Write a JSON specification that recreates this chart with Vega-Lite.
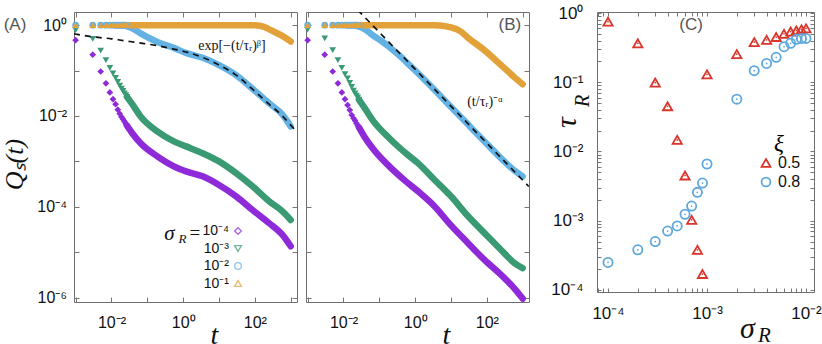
{
"$schema": "https://vega.github.io/schema/vega-lite/v6.json",
"padding": {"left": 0, "top": 4, "right": 0, "bottom": 0},
"config": {
 "font": "Liberation Sans",
 "view": {"stroke": "#6e6e6e", "strokeWidth": 1},
 "axis": {"domain": false, "grid": false, "tickColor": "#777", "tickSize": -5, "tickWidth": 1, "labelFont": "Liberation Sans", "labelFontSize": 16, "labelColor": "#111", "labelOverlap": false, "labelFlush": false, "titleFont": "Liberation Serif", "titleFontStyle": "italic", "titleFontWeight": "normal", "titleColor": "#111"},
 "legend": {"labelFont": "Liberation Sans", "labelColor": "#111"}
},
"datasets": {
 "pts": [
  {"p":"A","s":"10⁻⁴","t":0.001,"q":0.468},{"p":"A","s":"10⁻⁴","t":0.003,"q":0.224},{"p":"A","s":"10⁻⁴","t":0.005,"q":0.0955},{"p":"A","s":"10⁻⁴","t":0.007,"q":0.0525},{"p":"A","s":"10⁻⁴","t":0.009,"q":0.0331},{"p":"A","s":"10⁻⁴","t":0.011,"q":0.0234},{"p":"A","s":"10⁻⁴","t":0.013,"q":0.0182},{"p":"A","s":"10⁻⁴","t":0.015,"q":0.0138},{"p":"A","s":"10⁻⁴","t":0.017,"q":0.0112},{"p":"A","s":"10⁻⁴","t":0.019,"q":0.00955},{"p":"A","s":"10⁻⁴","t":0.021,"q":0.00851},{"p":"A","s":"10⁻⁴","t":0.023,"q":0.00759},{"p":"A","s":"10⁻⁴","t":0.025,"q":0.00676},{"p":"A","s":"10⁻⁴","t":0.027,"q":0.00617},
  {"p":"A","s":"10⁻³","t":0.001,"q":0.776},{"p":"A","s":"10⁻³","t":0.003,"q":0.501},{"p":"A","s":"10⁻³","t":0.005,"q":0.275},{"p":"A","s":"10⁻³","t":0.007,"q":0.17},{"p":"A","s":"10⁻³","t":0.009,"q":0.115},{"p":"A","s":"10⁻³","t":0.011,"q":0.0871},{"p":"A","s":"10⁻³","t":0.013,"q":0.0692},{"p":"A","s":"10⁻³","t":0.015,"q":0.0562},{"p":"A","s":"10⁻³","t":0.017,"q":0.0468},{"p":"A","s":"10⁻³","t":0.019,"q":0.0398},{"p":"A","s":"10⁻³","t":0.021,"q":0.0355},{"p":"A","s":"10⁻³","t":0.023,"q":0.0316},{"p":"A","s":"10⁻³","t":0.025,"q":0.0288},{"p":"A","s":"10⁻³","t":0.027,"q":0.0263},
  {"p":"A","s":"10⁻²","t":0.001,"q":1},{"p":"A","s":"10⁻²","t":0.003,"q":1},{"p":"A","s":"10⁻²","t":0.005,"q":1},{"p":"A","s":"10⁻²","t":0.007,"q":1},{"p":"A","s":"10⁻²","t":0.009,"q":1},{"p":"A","s":"10⁻²","t":0.011,"q":1},{"p":"A","s":"10⁻²","t":0.013,"q":1},{"p":"A","s":"10⁻²","t":0.015,"q":1},{"p":"A","s":"10⁻²","t":0.017,"q":1},{"p":"A","s":"10⁻²","t":0.019,"q":1},{"p":"A","s":"10⁻²","t":0.021,"q":1},{"p":"A","s":"10⁻²","t":0.023,"q":1},{"p":"A","s":"10⁻²","t":0.025,"q":1},{"p":"A","s":"10⁻²","t":0.027,"q":0.96},
  {"p":"A","s":"10⁻¹","t":0.001,"q":1},{"p":"A","s":"10⁻¹","t":0.003,"q":1},{"p":"A","s":"10⁻¹","t":0.005,"q":1},{"p":"A","s":"10⁻¹","t":0.007,"q":1},{"p":"A","s":"10⁻¹","t":0.009,"q":1},{"p":"A","s":"10⁻¹","t":0.011,"q":1},{"p":"A","s":"10⁻¹","t":0.013,"q":1},{"p":"A","s":"10⁻¹","t":0.015,"q":1},{"p":"A","s":"10⁻¹","t":0.017,"q":1},{"p":"A","s":"10⁻¹","t":0.019,"q":1},{"p":"A","s":"10⁻¹","t":0.021,"q":1},{"p":"A","s":"10⁻¹","t":0.023,"q":1},{"p":"A","s":"10⁻¹","t":0.025,"q":1},{"p":"A","s":"10⁻¹","t":0.027,"q":1},
  {"p":"B","s":"10⁻⁴","t":0.001,"q":0.468},{"p":"B","s":"10⁻⁴","t":0.003,"q":0.224},{"p":"B","s":"10⁻⁴","t":0.005,"q":0.0955},{"p":"B","s":"10⁻⁴","t":0.007,"q":0.0525},{"p":"B","s":"10⁻⁴","t":0.009,"q":0.0331},{"p":"B","s":"10⁻⁴","t":0.011,"q":0.0234},{"p":"B","s":"10⁻⁴","t":0.013,"q":0.0174},{"p":"B","s":"10⁻⁴","t":0.015,"q":0.0135},{"p":"B","s":"10⁻⁴","t":0.017,"q":0.0105},{"p":"B","s":"10⁻⁴","t":0.019,"q":0.00891},{"p":"B","s":"10⁻⁴","t":0.021,"q":0.00794},{"p":"B","s":"10⁻⁴","t":0.023,"q":0.00692},{"p":"B","s":"10⁻⁴","t":0.025,"q":0.00617},{"p":"B","s":"10⁻⁴","t":0.027,"q":0.00562},
  {"p":"B","s":"10⁻³","t":0.001,"q":0.794},{"p":"B","s":"10⁻³","t":0.003,"q":0.513},{"p":"B","s":"10⁻³","t":0.005,"q":0.282},{"p":"B","s":"10⁻³","t":0.007,"q":0.17},{"p":"B","s":"10⁻³","t":0.009,"q":0.115},{"p":"B","s":"10⁻³","t":0.011,"q":0.0832},{"p":"B","s":"10⁻³","t":0.013,"q":0.0676},{"p":"B","s":"10⁻³","t":0.015,"q":0.0537},{"p":"B","s":"10⁻³","t":0.017,"q":0.0437},{"p":"B","s":"10⁻³","t":0.019,"q":0.0363},{"p":"B","s":"10⁻³","t":0.021,"q":0.0316},{"p":"B","s":"10⁻³","t":0.023,"q":0.0282},{"p":"B","s":"10⁻³","t":0.025,"q":0.0257},{"p":"B","s":"10⁻³","t":0.027,"q":0.0229},
  {"p":"B","s":"10⁻²","t":0.001,"q":1},{"p":"B","s":"10⁻²","t":0.003,"q":1},{"p":"B","s":"10⁻²","t":0.005,"q":1},{"p":"B","s":"10⁻²","t":0.007,"q":1},{"p":"B","s":"10⁻²","t":0.009,"q":1},{"p":"B","s":"10⁻²","t":0.011,"q":1},{"p":"B","s":"10⁻²","t":0.013,"q":1},{"p":"B","s":"10⁻²","t":0.015,"q":1},{"p":"B","s":"10⁻²","t":0.017,"q":1},{"p":"B","s":"10⁻²","t":0.019,"q":1},{"p":"B","s":"10⁻²","t":0.021,"q":1},{"p":"B","s":"10⁻²","t":0.023,"q":1},{"p":"B","s":"10⁻²","t":0.025,"q":1},{"p":"B","s":"10⁻²","t":0.027,"q":0.94},
  {"p":"B","s":"10⁻¹","t":0.001,"q":1},{"p":"B","s":"10⁻¹","t":0.003,"q":1},{"p":"B","s":"10⁻¹","t":0.005,"q":1},{"p":"B","s":"10⁻¹","t":0.007,"q":1},{"p":"B","s":"10⁻¹","t":0.009,"q":1},{"p":"B","s":"10⁻¹","t":0.011,"q":1},{"p":"B","s":"10⁻¹","t":0.013,"q":1},{"p":"B","s":"10⁻¹","t":0.015,"q":1},{"p":"B","s":"10⁻¹","t":0.017,"q":1},{"p":"B","s":"10⁻¹","t":0.019,"q":1},{"p":"B","s":"10⁻¹","t":0.021,"q":1},{"p":"B","s":"10⁻¹","t":0.023,"q":1},{"p":"B","s":"10⁻¹","t":0.025,"q":1},{"p":"B","s":"10⁻¹","t":0.027,"q":1}
 ],
 "band": [
  {"p":"A","s":"10⁻⁴","t":0.027,"q":0.00617},{"p":"A","s":"10⁻⁴","t":0.038,"q":0.00417},{"p":"A","s":"10⁻⁴","t":0.065,"q":0.00251},{"p":"A","s":"10⁻⁴","t":0.19,"q":0.00129},{"p":"A","s":"10⁻⁴","t":0.55,"q":0.000776},{"p":"A","s":"10⁻⁴","t":1.2,"q":0.000603},{"p":"A","s":"10⁻⁴","t":3.5,"q":0.000468},{"p":"A","s":"10⁻⁴","t":10,"q":0.000302},{"p":"A","s":"10⁻⁴","t":30,"q":0.00017},{"p":"A","s":"10⁻⁴","t":86,"q":0.0000851},{"p":"A","s":"10⁻⁴","t":250,"q":0.0000437},{"p":"A","s":"10⁻⁴","t":590,"q":0.000024},{"p":"A","s":"10⁻⁴","t":1000,"q":0.0000135},
  {"p":"A","s":"10⁻³","t":0.027,"q":0.0263},{"p":"A","s":"10⁻³","t":0.038,"q":0.0182},{"p":"A","s":"10⁻³","t":0.065,"q":0.00977},{"p":"A","s":"10⁻³","t":0.19,"q":0.00457},{"p":"A","s":"10⁻³","t":0.55,"q":0.00275},{"p":"A","s":"10⁻³","t":1.2,"q":0.00214},{"p":"A","s":"10⁻³","t":3.5,"q":0.00151},{"p":"A","s":"10⁻³","t":10,"q":0.001},{"p":"A","s":"10⁻³","t":30,"q":0.00055},{"p":"A","s":"10⁻³","t":86,"q":0.000282},{"p":"A","s":"10⁻³","t":250,"q":0.000132},{"p":"A","s":"10⁻³","t":590,"q":0.0000794},{"p":"A","s":"10⁻³","t":1000,"q":0.0000513},
  {"p":"A","s":"10⁻²","t":0.013,"q":1},{"p":"A","s":"10⁻²","t":0.02,"q":0.995},{"p":"A","s":"10⁻²","t":0.027,"q":0.955},{"p":"A","s":"10⁻²","t":0.038,"q":0.851},{"p":"A","s":"10⁻²","t":0.065,"q":0.661},{"p":"A","s":"10⁻²","t":0.19,"q":0.427},{"p":"A","s":"10⁻²","t":0.55,"q":0.316},{"p":"A","s":"10⁻²","t":1.2,"q":0.245},{"p":"A","s":"10⁻²","t":3.5,"q":0.191},{"p":"A","s":"10⁻²","t":10,"q":0.132},{"p":"A","s":"10⁻²","t":30,"q":0.0794},{"p":"A","s":"10⁻²","t":86,"q":0.0398},{"p":"A","s":"10⁻²","t":250,"q":0.0191},{"p":"A","s":"10⁻²","t":590,"q":0.0107},{"p":"A","s":"10⁻²","t":1000,"q":0.00589},
  {"p":"A","s":"10⁻¹","t":0.013,"q":1},{"p":"A","s":"10⁻¹","t":0.1,"q":1},{"p":"A","s":"10⁻¹","t":1,"q":1},{"p":"A","s":"10⁻¹","t":10,"q":1},{"p":"A","s":"10⁻¹","t":60,"q":1},{"p":"A","s":"10⁻¹","t":100,"q":0.99},{"p":"A","s":"10⁻¹","t":180,"q":0.92},{"p":"A","s":"10⁻¹","t":280,"q":0.776},{"p":"A","s":"10⁻¹","t":656,"q":0.55},{"p":"A","s":"10⁻¹","t":1000,"q":0.437},
  {"p":"B","s":"10⁻⁴","t":0.027,"q":0.00562},{"p":"B","s":"10⁻⁴","t":0.038,"q":0.00355},{"p":"B","s":"10⁻⁴","t":0.065,"q":0.00195},{"p":"B","s":"10⁻⁴","t":0.19,"q":0.000776},{"p":"B","s":"10⁻⁴","t":0.55,"q":0.000363},{"p":"B","s":"10⁻⁴","t":1.2,"q":0.000219},{"p":"B","s":"10⁻⁴","t":3.5,"q":0.000102},{"p":"B","s":"10⁻⁴","t":10,"q":0.0000389},{"p":"B","s":"10⁻⁴","t":30,"q":0.0000158},{"p":"B","s":"10⁻⁴","t":86,"q":0.00000676},{"p":"B","s":"10⁻⁴","t":250,"q":0.00000316},{"p":"B","s":"10⁻⁴","t":590,"q":0.00000158},{"p":"B","s":"10⁻⁴","t":1000,"q":0.00000095},
  {"p":"B","s":"10⁻³","t":0.027,"q":0.0229},{"p":"B","s":"10⁻³","t":0.038,"q":0.0155},{"p":"B","s":"10⁻³","t":0.065,"q":0.00813},{"p":"B","s":"10⁻³","t":0.19,"q":0.00324},{"p":"B","s":"10⁻³","t":0.55,"q":0.00151},{"p":"B","s":"10⁻³","t":1.2,"q":0.000912},{"p":"B","s":"10⁻³","t":3.5,"q":0.000389},{"p":"B","s":"10⁻³","t":10,"q":0.00017},{"p":"B","s":"10⁻³","t":30,"q":0.0000617},{"p":"B","s":"10⁻³","t":86,"q":0.0000263},{"p":"B","s":"10⁻³","t":250,"q":0.0000112},{"p":"B","s":"10⁻³","t":590,"q":0.00000575},{"p":"B","s":"10⁻³","t":1000,"q":0.00000447},
  {"p":"B","s":"10⁻²","t":0.013,"q":1},{"p":"B","s":"10⁻²","t":0.02,"q":0.99},{"p":"B","s":"10⁻²","t":0.027,"q":0.933},{"p":"B","s":"10⁻²","t":0.038,"q":0.832},{"p":"B","s":"10⁻²","t":0.065,"q":0.603},{"p":"B","s":"10⁻²","t":0.12,"q":0.437},{"p":"B","s":"10⁻²","t":0.19,"q":0.331},{"p":"B","s":"10⁻²","t":0.4,"q":0.2},{"p":"B","s":"10⁻²","t":0.55,"q":0.158},{"p":"B","s":"10⁻²","t":1.2,"q":0.0871},{"p":"B","s":"10⁻²","t":3.5,"q":0.0372},{"p":"B","s":"10⁻²","t":10,"q":0.0158},{"p":"B","s":"10⁻²","t":30,"q":0.00646},{"p":"B","s":"10⁻²","t":86,"q":0.00275},{"p":"B","s":"10⁻²","t":250,"q":0.00117},{"p":"B","s":"10⁻²","t":590,"q":0.00063},{"p":"B","s":"10⁻²","t":1000,"q":0.000468},
  {"p":"B","s":"10⁻¹","t":0.013,"q":1},{"p":"B","s":"10⁻¹","t":0.1,"q":1},{"p":"B","s":"10⁻¹","t":1,"q":1},{"p":"B","s":"10⁻¹","t":3.4,"q":1},{"p":"B","s":"10⁻¹","t":5,"q":0.98},{"p":"B","s":"10⁻¹","t":10,"q":0.891},{"p":"B","s":"10⁻¹","t":18,"q":0.74},{"p":"B","s":"10⁻¹","t":29,"q":0.537},{"p":"B","s":"10⁻¹","t":85,"q":0.282},{"p":"B","s":"10⁻¹","t":250,"q":0.132},{"p":"B","s":"10⁻¹","t":590,"q":0.0708},{"p":"B","s":"10⁻¹","t":1000,"q":0.0501}
 ],
 "fit": [
  {"p":"A","t":0.0009,"q":0.646},{"p":"A","t":0.0032,"q":0.55},{"p":"A","t":0.01,"q":0.501},{"p":"A","t":0.022,"q":0.457},{"p":"A","t":0.06,"q":0.407},{"p":"A","t":0.185,"q":0.355},{"p":"A","t":0.5,"q":0.302},{"p":"A","t":1.2,"q":0.257},{"p":"A","t":3.5,"q":0.195},{"p":"A","t":10,"q":0.132},{"p":"A","t":30,"q":0.0794},{"p":"A","t":86,"q":0.0389},{"p":"A","t":250,"q":0.0182},{"p":"A","t":590,"q":0.01},{"p":"A","t":1000,"q":0.0063},{"p":"A","t":1300,"q":0.005},
  {"p":"B","t":0.0251,"q":2.15},{"p":"B","t":1479,"q":0.000281}
 ],
 "tau": [
  {"sigma":0.0001,"tau":0.75,"xi":"0.5"},{"sigma":0.0002,"tau":0.365,"xi":"0.5"},{"sigma":0.0003,"tau":0.099,"xi":"0.5"},{"sigma":0.0004,"tau":0.045,"xi":"0.5"},{"sigma":0.0005,"tau":0.0147,"xi":"0.5"},{"sigma":0.0006,"tau":0.0045,"xi":"0.5"},{"sigma":0.0007,"tau":0.00103,"xi":"0.5"},{"sigma":0.0008,"tau":0.00038,"xi":"0.5"},{"sigma":0.0009,"tau":0.00017,"xi":"0.5"},{"sigma":0.001,"tau":0.13,"xi":"0.5"},{"sigma":0.002,"tau":0.255,"xi":"0.5"},{"sigma":0.003,"tau":0.38,"xi":"0.5"},{"sigma":0.004,"tau":0.41,"xi":"0.5"},{"sigma":0.005,"tau":0.45,"xi":"0.5"},{"sigma":0.006,"tau":0.5,"xi":"0.5"},{"sigma":0.007,"tau":0.54,"xi":"0.5"},{"sigma":0.008,"tau":0.56,"xi":"0.5"},{"sigma":0.009,"tau":0.58,"xi":"0.5"},{"sigma":0.01,"tau":0.6,"xi":"0.5"},
  {"sigma":0.0001,"tau":0.00025,"xi":"0.8"},{"sigma":0.0002,"tau":0.00038,"xi":"0.8"},{"sigma":0.0003,"tau":0.0005,"xi":"0.8"},{"sigma":0.0004,"tau":0.00071,"xi":"0.8"},{"sigma":0.0005,"tau":0.00084,"xi":"0.8"},{"sigma":0.0006,"tau":0.00124,"xi":"0.8"},{"sigma":0.0007,"tau":0.00163,"xi":"0.8"},{"sigma":0.0008,"tau":0.00257,"xi":"0.8"},{"sigma":0.0009,"tau":0.0035,"xi":"0.8"},{"sigma":0.001,"tau":0.0066,"xi":"0.8"},{"sigma":0.002,"tau":0.057,"xi":"0.8"},{"sigma":0.003,"tau":0.147,"xi":"0.8"},{"sigma":0.004,"tau":0.187,"xi":"0.8"},{"sigma":0.005,"tau":0.229,"xi":"0.8"},{"sigma":0.006,"tau":0.326,"xi":"0.8"},{"sigma":0.007,"tau":0.365,"xi":"0.8"},{"sigma":0.008,"tau":0.417,"xi":"0.8"},{"sigma":0.009,"tau":0.43,"xi":"0.8"},{"sigma":0.01,"tau":0.43,"xi":"0.8"}
 ]
},
"resolve": {"scale": {"color": "independent", "shape": "independent"}},
"bounds": "flush",
"spacing": 9,
"hconcat": [
 {
  "width": 223, "height": 290,
  "resolve": {"axis": {"x": "independent", "y": "independent"}},
  "layer": [
   {
    "data": {"name": "band"},
    "transform": [{"filter": "datum.p == 'A'"}],
    "mark": {"type": "line", "strokeWidth": 6.5, "interpolate": "monotone", "strokeCap": "round", "strokeJoin": "round"},
    "encoding": {
     "x": {"field": "t", "type": "quantitative", "scale": {"type": "log", "domain": [0.0009, 1500]}, "axis": {"values": [0.001, 0.01, 0.1, 1, 10, 100, 1000], "labelExpr": "datum.value==0.01?'10⁻²':datum.value==1?'10⁰':datum.value==100?'10²':''", "labelPadding": 17.5, "title": "t", "titleFontSize": 28, "titleX": 140, "titleY": 41, "titleBaseline": "alphabetic", "titleAlign": "center"}},
     "y": {"field": "q", "type": "quantitative", "scale": {"type": "log", "domain": [8e-7, 1.95]}, "axis": {"values": [0.000001, 0.00001, 0.0001, 0.001, 0.01, 0.1, 1], "labelExpr": "datum.value==1?'10⁰':datum.value==0.01?'10⁻²':datum.value==0.0001?'10⁻⁴':datum.value==0.000001?'10⁻⁶':''", "labelPadding": 12.5, "title": "Qₛ(t)", "titleFontSize": 26, "titleX": -52, "titleY": 152, "titleBaseline": "alphabetic", "titleAlign": "center"}},
     "detail": {"field": "s", "type": "nominal"},
     "color": {"condition": [{"test": "datum.s=='10⁻⁴'", "value": "#8e2ad8"}, {"test": "datum.s=='10⁻³'", "value": "#3a9a73"}, {"test": "datum.s=='10⁻²'", "value": "#64b2e4"}], "value": "#e3a13a"}
    }
   },
   {
    "data": {"name": "pts"},
    "transform": [{"filter": "datum.p == 'A'"}],
    "mark": {"type": "point", "filled": true, "size": 45, "opacity": 1},
    "encoding": {
     "x": {"field": "t", "type": "quantitative", "scale": {"type": "log", "domain": [0.0009, 1500]}, "axis": null},
     "y": {"field": "q", "type": "quantitative", "scale": {"type": "log", "domain": [8e-7, 1.95]}, "axis": null},
     "color": {"condition": [{"test": "datum.s=='10⁻⁴'", "value": "#8e2ad8"}, {"test": "datum.s=='10⁻³'", "value": "#3a9a73"}, {"test": "datum.s=='10⁻²'", "value": "#64b2e4"}], "value": "#e3a13a"},
     "shape": {"condition": [{"test": "datum.s=='10⁻⁴'", "value": "diamond"}, {"test": "datum.s=='10⁻³'", "value": "triangle-down"}, {"test": "datum.s=='10⁻²'", "value": "circle"}], "value": "triangle-up"}
    }
   },
   {
    "data": {"name": "pts"},
    "transform": [{"filter": "datum.t > 1000000"}],
    "mark": {"type": "point", "filled": false, "size": 45, "strokeWidth": 1.4},
    "encoding": {
     "x": {"field": "t", "type": "quantitative", "scale": {"type": "log", "domain": [0.0009, 1500]}, "axis": null},
     "y": {"field": "q", "type": "quantitative", "scale": {"type": "log", "domain": [8e-7, 1.95]}, "axis": null},
     "color": {"field": "s", "type": "nominal", "scale": {"domain": ["10⁻⁴", "10⁻³", "10⁻²", "10⁻¹"], "range": ["#8e2ad8", "#3a9a73", "#64b2e4", "#e3a13a"]}, "legend": {"title": null, "orient": "none", "legendX": 157, "legendY": 212, "labelAlign": "right", "labelOffset": -16, "labelFontSize": 14, "symbolSize": 45, "symbolStrokeWidth": 1.4, "rowPadding": 3.5, "padding": 0}},
     "shape": {"field": "s", "type": "nominal", "scale": {"domain": ["10⁻⁴", "10⁻³", "10⁻²", "10⁻¹"], "range": ["diamond", "triangle-down", "circle", "triangle-up"]}, "legend": {"title": null, "orient": "none", "legendX": 157, "legendY": 212, "labelAlign": "right", "labelOffset": -16, "labelFontSize": 14, "symbolSize": 45, "symbolStrokeWidth": 1.4, "rowPadding": 3.5, "padding": 0}}
    }
   },
   {
    "data": {"name": "fit"},
    "transform": [{"filter": "datum.p == 'A'"}],
    "mark": {"type": "line", "color": "#111", "strokeWidth": 1.7, "strokeDash": [6, 5], "interpolate": "monotone"},
    "encoding": {
     "x": {"field": "t", "type": "quantitative", "scale": {"type": "log", "domain": [0.0009, 1500]}, "axis": null},
     "y": {"field": "q", "type": "quantitative", "scale": {"type": "log", "domain": [8e-7, 1.95]}, "axis": null}
    }
   },
   {"data": {"values": [{}]}, "mark": {"type": "text", "text": "(A)", "font": "Liberation Sans", "fontSize": 17, "color": "#555"}, "encoding": {"x": {"datum": 0.0000203, "type": "quantitative", "scale": {"type": "log", "domain": [0.0009, 1500]}, "axis": null}, "y": {"datum": 1, "type": "quantitative", "scale": {"type": "log", "domain": [8e-7, 1.95]}, "axis": null}}},
   {"data": {"values": [{}]}, "mark": {"type": "text", "text": "exp[−(t/τᵣ)ᵝ]", "font": "Liberation Serif", "fontSize": 14, "color": "#111"}, "encoding": {"x": {"datum": 22.9, "type": "quantitative", "scale": {"type": "log", "domain": [0.0009, 1500]}, "axis": null}, "y": {"datum": 0.345, "type": "quantitative", "scale": {"type": "log", "domain": [8e-7, 1.95]}, "axis": null}}},
   {"data": {"values": [{}]}, "mark": {"type": "text", "text": "σ", "font": "Liberation Serif", "fontStyle": "italic", "fontSize": 21, "baseline": "alphabetic", "color": "#111"}, "encoding": {"x": {"datum": 0.413, "type": "quantitative", "scale": {"type": "log", "domain": [0.0009, 1500]}, "axis": null}, "y": {"datum": 0.0000188, "type": "quantitative", "scale": {"type": "log", "domain": [8e-7, 1.95]}, "axis": null}}},
   {"data": {"values": [{}]}, "mark": {"type": "text", "text": "R", "font": "Liberation Serif", "fontStyle": "italic", "fontSize": 13, "baseline": "alphabetic", "color": "#111"}, "encoding": {"x": {"datum": 0.953, "type": "quantitative", "scale": {"type": "log", "domain": [0.0009, 1500]}, "axis": null}, "y": {"datum": 0.0000162, "type": "quantitative", "scale": {"type": "log", "domain": [8e-7, 1.95]}, "axis": null}}},
   {"data": {"values": [{}]}, "mark": {"type": "text", "text": "=", "font": "Liberation Serif", "fontSize": 19, "color": "#111"}, "encoding": {"x": {"datum": 2.12, "type": "quantitative", "scale": {"type": "log", "domain": [0.0009, 1500]}, "axis": null}, "y": {"datum": 0.0000264, "type": "quantitative", "scale": {"type": "log", "domain": [8e-7, 1.95]}, "axis": null}}},
   {
    "data": {"name": "fit"},
    "transform": [{"filter": "datum.p == 'A'"}],
    "mark": {"type": "point", "opacity": 0},
    "encoding": {
     "x": {"field": "t", "type": "quantitative", "scale": {"type": "log", "domain": [0.0009, 1500]}, "axis": {"orient": "top", "values": [0.001, 0.01, 0.1, 1, 10, 100, 1000], "labels": false, "title": null}},
     "y": {"field": "q", "type": "quantitative", "scale": {"type": "log", "domain": [8e-7, 1.95]}, "axis": {"orient": "right", "values": [0.000001, 0.00001, 0.0001, 0.001, 0.01, 0.1, 1], "labels": false, "title": null}}
    }
   }
  ]
 },
 {
  "width": 223, "height": 290,
  "resolve": {"axis": {"x": "independent", "y": "independent"}},
  "layer": [
   {
    "data": {"name": "band"},
    "transform": [{"filter": "datum.p == 'B'"}],
    "mark": {"type": "line", "strokeWidth": 6.5, "interpolate": "monotone", "strokeCap": "round", "strokeJoin": "round"},
    "encoding": {
     "x": {"field": "t", "type": "quantitative", "scale": {"type": "log", "domain": [0.0009, 1500]}, "axis": {"values": [0.001, 0.01, 0.1, 1, 10, 100, 1000], "labelExpr": "datum.value==0.01?'10⁻²':datum.value==1?'10⁰':datum.value==100?'10²':''", "labelPadding": 17.5, "title": "t", "titleFontSize": 28, "titleX": 140, "titleY": 41, "titleBaseline": "alphabetic", "titleAlign": "center"}},
     "y": {"field": "q", "type": "quantitative", "scale": {"type": "log", "domain": [8e-7, 1.95]}, "axis": {"values": [0.000001, 0.00001, 0.0001, 0.001, 0.01, 0.1, 1], "labels": false, "title": null}},
     "detail": {"field": "s", "type": "nominal"},
     "color": {"condition": [{"test": "datum.s=='10⁻⁴'", "value": "#8e2ad8"}, {"test": "datum.s=='10⁻³'", "value": "#3a9a73"}, {"test": "datum.s=='10⁻²'", "value": "#64b2e4"}], "value": "#e3a13a"}
    }
   },
   {
    "data": {"name": "pts"},
    "transform": [{"filter": "datum.p == 'B'"}],
    "mark": {"type": "point", "filled": true, "size": 45, "opacity": 1},
    "encoding": {
     "x": {"field": "t", "type": "quantitative", "scale": {"type": "log", "domain": [0.0009, 1500]}, "axis": null},
     "y": {"field": "q", "type": "quantitative", "scale": {"type": "log", "domain": [8e-7, 1.95]}, "axis": null},
     "color": {"condition": [{"test": "datum.s=='10⁻⁴'", "value": "#8e2ad8"}, {"test": "datum.s=='10⁻³'", "value": "#3a9a73"}, {"test": "datum.s=='10⁻²'", "value": "#64b2e4"}], "value": "#e3a13a"},
     "shape": {"condition": [{"test": "datum.s=='10⁻⁴'", "value": "diamond"}, {"test": "datum.s=='10⁻³'", "value": "triangle-down"}, {"test": "datum.s=='10⁻²'", "value": "circle"}], "value": "triangle-up"}
    }
   },
   {
    "data": {"name": "fit"},
    "transform": [{"filter": "datum.p == 'B'"}],
    "mark": {"type": "line", "color": "#111", "strokeWidth": 1.7, "strokeDash": [6, 5], "clip": true},
    "encoding": {
     "x": {"field": "t", "type": "quantitative", "scale": {"type": "log", "domain": [0.0009, 1500]}, "axis": null},
     "y": {"field": "q", "type": "quantitative", "scale": {"type": "log", "domain": [8e-7, 1.95]}, "axis": null}
    }
   },
   {"data": {"values": [{}]}, "mark": {"type": "text", "text": "(B)", "font": "Liberation Sans", "fontSize": 17, "color": "#555"}, "encoding": {"x": {"datum": 438, "type": "quantitative", "scale": {"type": "log", "domain": [0.0009, 1500]}, "axis": null}, "y": {"datum": 1, "type": "quantitative", "scale": {"type": "log", "domain": [8e-7, 1.95]}, "axis": null}}},
   {"data": {"values": [{}]}, "mark": {"type": "text", "text": "(t/τᵣ)⁻ᵅ", "font": "Liberation Serif", "fontSize": 14, "color": "#111"}, "encoding": {"x": {"datum": 88, "type": "quantitative", "scale": {"type": "log", "domain": [0.0009, 1500]}, "axis": null}, "y": {"datum": 0.0203, "type": "quantitative", "scale": {"type": "log", "domain": [8e-7, 1.95]}, "axis": null}}},
   {
    "data": {"name": "fit"},
    "transform": [{"filter": "datum.p == 'B'"}],
    "mark": {"type": "point", "opacity": 0},
    "encoding": {
     "x": {"field": "t", "type": "quantitative", "scale": {"type": "log", "domain": [0.0009, 1500]}, "axis": {"orient": "top", "values": [0.001, 0.01, 0.1, 1, 10, 100, 1000], "labels": false, "title": null}},
     "y": {"field": "q", "type": "quantitative", "scale": {"type": "log", "domain": [8e-7, 1.95]}, "axis": {"orient": "right", "values": [0.000001, 0.00001, 0.0001, 0.001, 0.01, 0.1, 1], "labels": false, "title": null}}
    }
   }
  ]
 },
 {
  "width": 276, "height": 280,
  "view": {"stroke": null},
  "resolve": {"axis": {"x": "independent", "y": "independent"}},
  "layer": [
   {
    "data": {"name": "tau"},
    "mark": {"type": "point", "filled": false, "size": 85, "strokeWidth": 1.8, "opacity": 1},
    "encoding": {
     "x": {"field": "sigma", "type": "quantitative", "scale": {"type": "log", "domain": [0.0000774, 0.01205], "range": [59, 276]}, "axis": {"domain": true, "domainColor": "#6e6e6e", "values": [0.00008, 0.00009, 0.0001, 0.0002, 0.0003, 0.0004, 0.0005, 0.0006, 0.0007, 0.0008, 0.0009, 0.001, 0.002, 0.003, 0.004, 0.005, 0.006, 0.007, 0.008, 0.009, 0.01], "labelExpr": "datum.value==0.0001?'10⁻⁴':datum.value==0.001?'10⁻³':datum.value==0.01?'10⁻²':''", "labelFontSize": 17, "labelPadding": 17, "tickSize": -4, "title": "σ", "titleFontSize": 30, "titleX": 209, "titleY": 45, "titleBaseline": "alphabetic", "titleAlign": "center"}},
     "y": {"field": "tau", "type": "quantitative", "scale": {"type": "log", "domain": [0.0000935, 1.034]}, "axis": {"domain": true, "domainColor": "#6e6e6e", "offset": -59, "values": [0.0001, 0.0002, 0.0003, 0.0004, 0.0005, 0.0006, 0.0007, 0.0008, 0.0009, 0.001, 0.002, 0.003, 0.004, 0.005, 0.006, 0.007, 0.008, 0.009, 0.01, 0.02, 0.03, 0.04, 0.05, 0.06, 0.07, 0.08, 0.09, 0.1, 0.2, 0.3, 0.4, 0.5, 0.6, 0.7, 0.8, 0.9, 1], "labelExpr": "datum.value==1?'10⁰':datum.value==0.1?'10⁻¹':datum.value==0.01?'10⁻²':datum.value==0.001?'10⁻³':datum.value==0.0001?'10⁻⁴':''", "labelFontSize": 17, "labelPadding": 18, "tickSize": -4, "title": "τ", "titleFontSize": 30, "titleX": -22, "titleY": 110, "titleBaseline": "alphabetic", "titleAlign": "center"}},
     "color": {"field": "xi", "type": "nominal", "scale": {"domain": ["0.5", "0.8"], "range": ["#d9352a", "#5fa8dc"]}, "legend": {"title": "ξ", "titleFont": "Liberation Serif", "titleFontStyle": "italic", "titleFontWeight": "normal", "titleFontSize": 23, "titleAnchor": "middle", "titlePadding": -1, "orient": "none", "legendX": 220, "legendY": 121, "labelFontSize": 16, "symbolSize": 80, "symbolStrokeWidth": 1.8, "rowPadding": 2, "padding": 0}},
     "shape": {"field": "xi", "type": "nominal", "scale": {"domain": ["0.5", "0.8"], "range": ["triangle-up", "circle"]}, "legend": {"title": "ξ", "titleFont": "Liberation Serif", "titleFontStyle": "italic", "titleFontWeight": "normal", "titleFontSize": 23, "titleAnchor": "middle", "titlePadding": -1, "orient": "none", "legendX": 220, "legendY": 121, "labelFontSize": 16, "symbolSize": 80, "symbolStrokeWidth": 1.8, "rowPadding": 2, "padding": 0}}
    }
   },
   {
    "data": {"name": "tau"},
    "mark": {"type": "point", "filled": true, "size": 3, "opacity": 1, "shape": "circle"},
    "encoding": {
     "x": {"field": "sigma", "type": "quantitative", "scale": {"type": "log", "domain": [0.0000774, 0.01205], "range": [59, 276]}, "axis": null},
     "y": {"field": "tau", "type": "quantitative", "scale": {"type": "log", "domain": [0.0000935, 1.034]}, "axis": null},
     "color": {"condition": {"test": "datum.xi=='0.5'", "value": "#d9352a"}, "value": "#5fa8dc"}
    }
   },
   {"data": {"values": [{}]}, "mark": {"type": "text", "text": "(C)", "font": "Liberation Sans", "fontSize": 17, "color": "#555"}, "encoding": {"x": {"datum": 0.00069, "type": "quantitative", "scale": {"type": "log", "domain": [0.0000774, 0.01205], "range": [59, 276]}, "axis": null}, "y": {"datum": 0.67, "type": "quantitative", "scale": {"type": "log", "domain": [0.0000935, 1.034]}, "axis": null}}},
   {"data": {"values": [{}]}, "mark": {"type": "text", "text": "R", "font": "Liberation Serif", "fontStyle": "italic", "fontSize": 21, "baseline": "alphabetic", "color": "#111"}, "encoding": {"x": {"datum": 0.00381, "type": "quantitative", "scale": {"type": "log", "domain": [0.0000774, 0.01205], "range": [59, 276]}, "axis": null}, "y": {"datum": 0.0000177, "type": "quantitative", "scale": {"type": "log", "domain": [0.0000935, 1.034]}, "axis": null}}},
   {"data": {"values": [{}]}, "mark": {"type": "text", "text": "R", "font": "Liberation Serif", "fontStyle": "italic", "fontSize": 20, "angle": 270, "color": "#111"}, "encoding": {"x": {"datum": 0.0000558, "type": "quantitative", "scale": {"type": "log", "domain": [0.0000774, 0.01205], "range": [59, 276]}, "axis": null}, "y": {"datum": 0.0536, "type": "quantitative", "scale": {"type": "log", "domain": [0.0000935, 1.034]}, "axis": null}}},
   {
    "data": {"name": "tau"},
    "mark": {"type": "point", "opacity": 0},
    "encoding": {
     "x": {"field": "sigma", "type": "quantitative", "scale": {"type": "log", "domain": [0.0000774, 0.01205], "range": [59, 276]}, "axis": {"orient": "top", "domain": true, "domainColor": "#6e6e6e", "values": [0.00008, 0.00009, 0.0001, 0.0002, 0.0003, 0.0004, 0.0005, 0.0006, 0.0007, 0.0008, 0.0009, 0.001, 0.002, 0.003, 0.004, 0.005, 0.006, 0.007, 0.008, 0.009, 0.01], "labels": false, "tickSize": -4, "title": null}},
     "y": {"field": "tau", "type": "quantitative", "scale": {"type": "log", "domain": [0.0000935, 1.034]}, "axis": {"orient": "right", "domain": true, "domainColor": "#6e6e6e", "values": [0.0001, 0.0002, 0.0003, 0.0004, 0.0005, 0.0006, 0.0007, 0.0008, 0.0009, 0.001, 0.002, 0.003, 0.004, 0.005, 0.006, 0.007, 0.008, 0.009, 0.01, 0.02, 0.03, 0.04, 0.05, 0.06, 0.07, 0.08, 0.09, 0.1, 0.2, 0.3, 0.4, 0.5, 0.6, 0.7, 0.8, 0.9, 1], "labels": false, "tickSize": -4, "title": null}}
    }
   }
  ]
 }
]
}
